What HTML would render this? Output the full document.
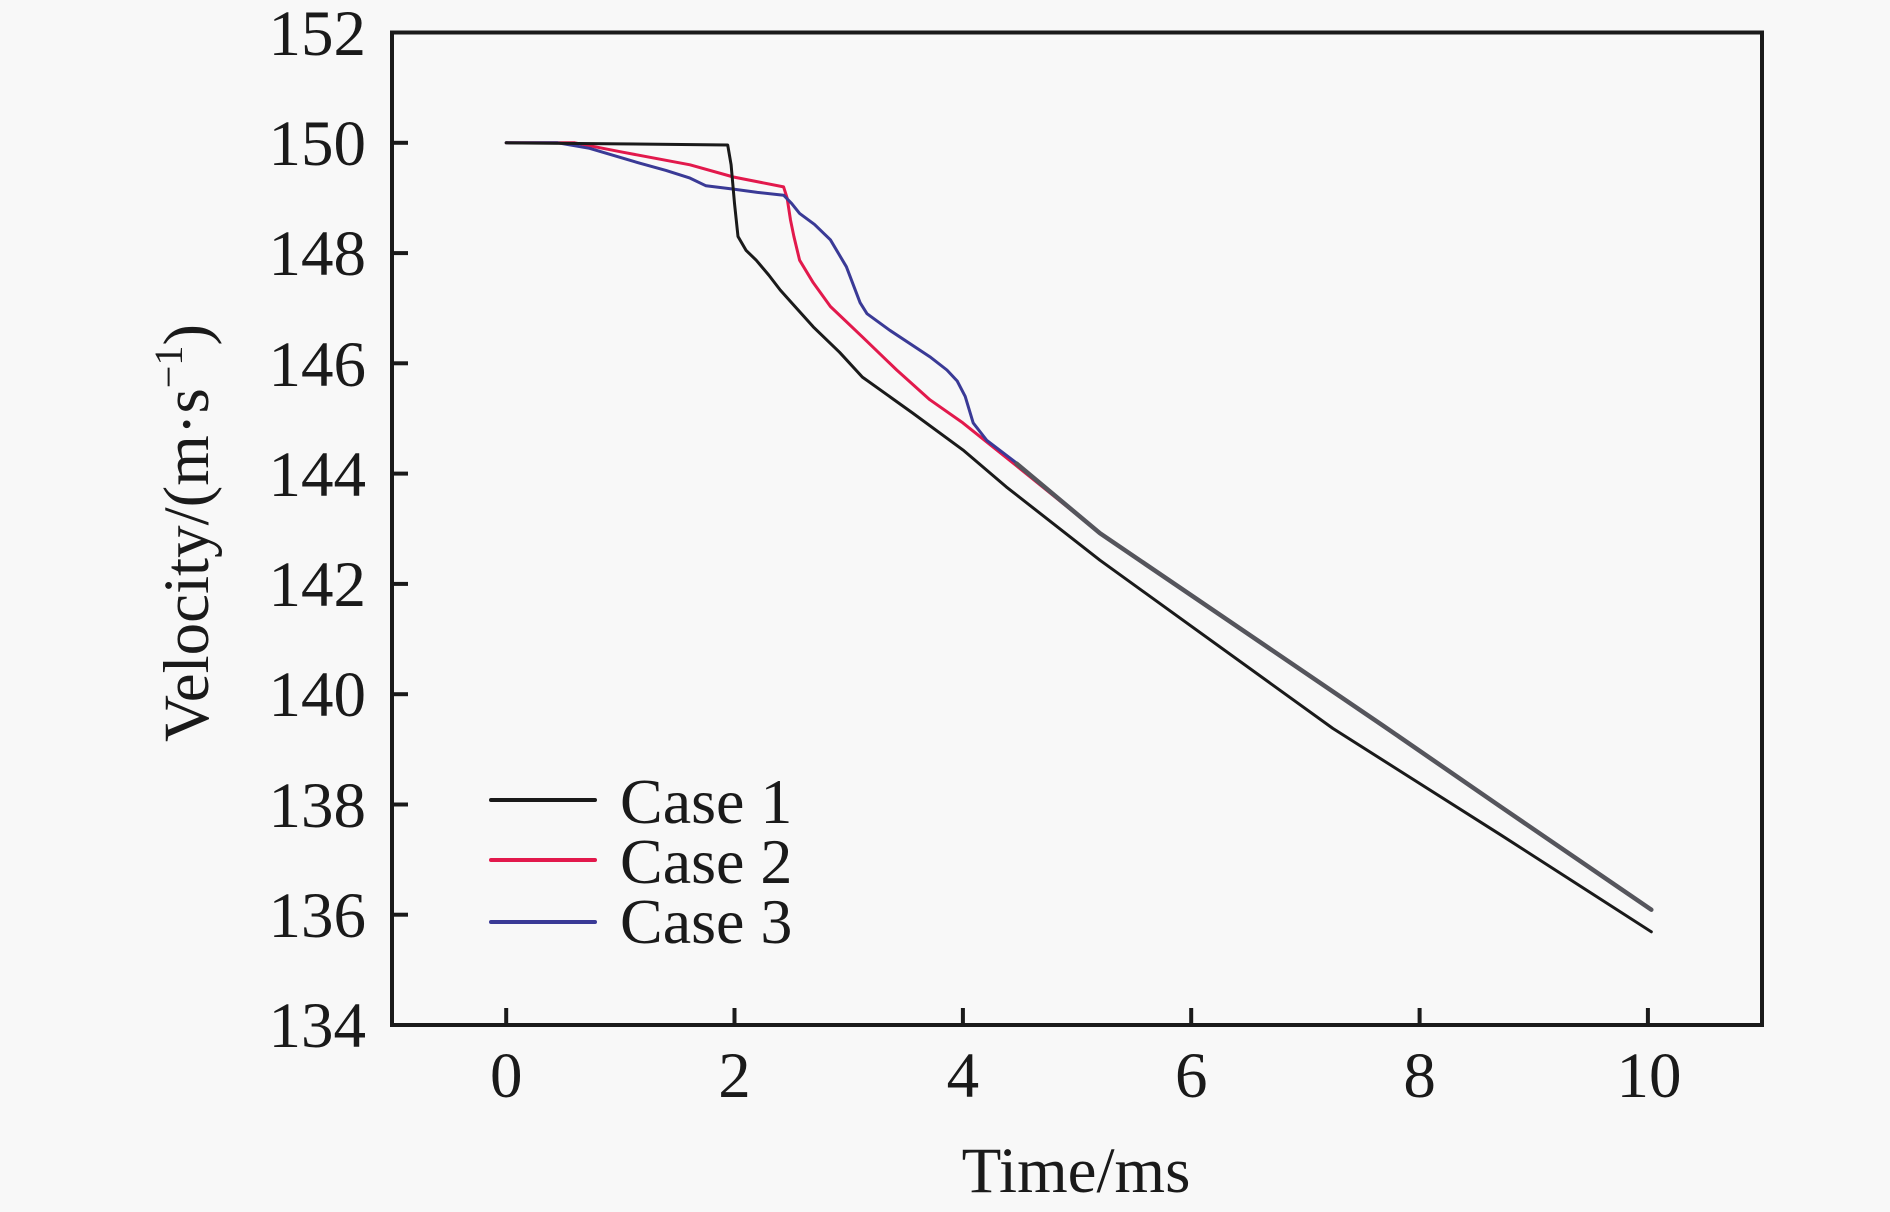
<!DOCTYPE html>
<html>
<head>
<meta charset="utf-8">
<style>
  html, body { margin: 0; padding: 0; background: #f8f8f8; }
  svg { display: block; }
  text { font-family: "Liberation Serif", "Times New Roman", serif; fill: #1a1a1a; }
</style>
</head>
<body>
<svg width="1890" height="1212" viewBox="0 0 1890 1212" xmlns="http://www.w3.org/2000/svg">
  <rect x="0" y="0" width="1890" height="1212" fill="#f8f8f8"/>

  <!-- series -->
  <g fill="none" stroke-linejoin="round" stroke-linecap="round" stroke-width="3">
    <!-- Case 2 (red) -->
    <polyline stroke="#e2194c" points="506.2,142.8 574.7,142.8 622.7,152.2 690.0,164.8 733.4,177.0 783.6,186.9 787.1,197.9 790.5,220.0 793.9,236.5 799.6,260.2 813.3,282.8 830.4,306.5 862.4,336.9 896.7,370.0 929.8,399.7 962.9,422.9 1013.1,463.1 1099.9,533.2 1383.0,725.6 1500.6,806.7 1651.3,909.7"/>
    <!-- Case 3 (blue) -->
    <polyline stroke="#3a3a96" points="506.2,142.8 557.6,142.8 589.5,148.3 639.8,163.2 666.0,170.4 690.0,178.1 706.0,185.8 733.4,189.1 757.4,192.4 783.6,195.2 791.6,203.4 799.6,213.4 814.5,224.4 830.4,239.8 846.4,266.8 860.1,302.7 867.0,313.7 889.8,330.3 929.8,356.7 946.9,370.0 957.2,381.0 965.2,396.4 973.2,422.9 986.9,440.5 1016.6,463.1 1099.9,533.2 1383.0,725.6 1500.6,806.7 1651.3,909.7"/>
    <!-- overlap of Case 2 & 3 appears gray -->
    <polyline stroke="#55555c" stroke-width="4.5" points="1016.6,463.6 1099.9,533.2 1383.0,725.6 1500.6,806.7 1651.3,909.7"/>
    <!-- Case 1 (black) -->
    <polyline stroke="#1a1a1a" points="506.2,142.8 620.4,143.9 727.7,145.0 731.1,164.8 734.5,203.4 738.0,236.5 746.0,250.3 756.2,260.2 768.8,275.1 780.2,290.0 791.6,302.7 813.3,326.9 839.6,352.3 862.4,377.1 912.6,413.0 962.9,449.9 1006.3,486.9 1099.9,560.2 1332.8,728.4 1500.6,834.8 1651.3,931.8"/>
  </g>

  <!-- axes frame -->
  <rect x="392" y="32.5" width="1370" height="992.5" fill="none" stroke="#1a1a1a" stroke-width="4"/>

  <!-- x ticks -->
  <g stroke="#1a1a1a" stroke-width="4">
    <line x1="506.2" y1="1008" x2="506.2" y2="1025"/>
    <line x1="734.5" y1="1008" x2="734.5" y2="1025"/>
    <line x1="962.9" y1="1008" x2="962.9" y2="1025"/>
    <line x1="1191.2" y1="1008" x2="1191.2" y2="1025"/>
    <line x1="1419.6" y1="1008" x2="1419.6" y2="1025"/>
    <line x1="1647.9" y1="1008" x2="1647.9" y2="1025"/>
  </g>
  <!-- y ticks -->
  <g stroke="#1a1a1a" stroke-width="4">
    <line x1="392" y1="914.7" x2="408" y2="914.7"/>
    <line x1="392" y1="804.5" x2="408" y2="804.5"/>
    <line x1="392" y1="694.2" x2="408" y2="694.2"/>
    <line x1="392" y1="583.9" x2="408" y2="583.9"/>
    <line x1="392" y1="473.6" x2="408" y2="473.6"/>
    <line x1="392" y1="363.3" x2="408" y2="363.3"/>
    <line x1="392" y1="253.1" x2="408" y2="253.1"/>
    <line x1="392" y1="142.8" x2="408" y2="142.8"/>
  </g>

  <!-- y tick labels -->
  <g font-size="65" text-anchor="end">
    <text x="366" y="55">152</text>
    <text x="366" y="165">150</text>
    <text x="366" y="275">148</text>
    <text x="366" y="386">146</text>
    <text x="366" y="496">144</text>
    <text x="366" y="606">142</text>
    <text x="366" y="716">140</text>
    <text x="366" y="827">138</text>
    <text x="366" y="937">136</text>
    <text x="366" y="1047">134</text>
  </g>

  <!-- x tick labels -->
  <g font-size="65" text-anchor="middle">
    <text x="506.2" y="1097">0</text>
    <text x="734.5" y="1097">2</text>
    <text x="962.9" y="1097">4</text>
    <text x="1191.2" y="1097">6</text>
    <text x="1419.6" y="1097">8</text>
    <text x="1649" y="1097">10</text>
  </g>

  <!-- axis titles -->
  <text x="1076" y="1192" font-size="65" text-anchor="middle">Time/ms</text>
  <text transform="translate(208,533) rotate(-90)" font-size="65" text-anchor="middle">Velocity/(m·s<tspan font-size="40" dy="-26">−1</tspan><tspan dy="26">)</tspan></text>

  <!-- legend -->
  <g stroke-width="4" stroke-linecap="round">
    <line x1="491" y1="800" x2="595" y2="800" stroke="#1a1a1a"/>
    <line x1="491" y1="860" x2="595" y2="860" stroke="#e2194c"/>
    <line x1="491" y1="922" x2="595" y2="922" stroke="#3a3a96"/>
  </g>
  <g font-size="64">
    <text x="620" y="823">Case 1</text>
    <text x="620" y="883">Case 2</text>
    <text x="620" y="943">Case 3</text>
  </g>
</svg>
</body>
</html>
